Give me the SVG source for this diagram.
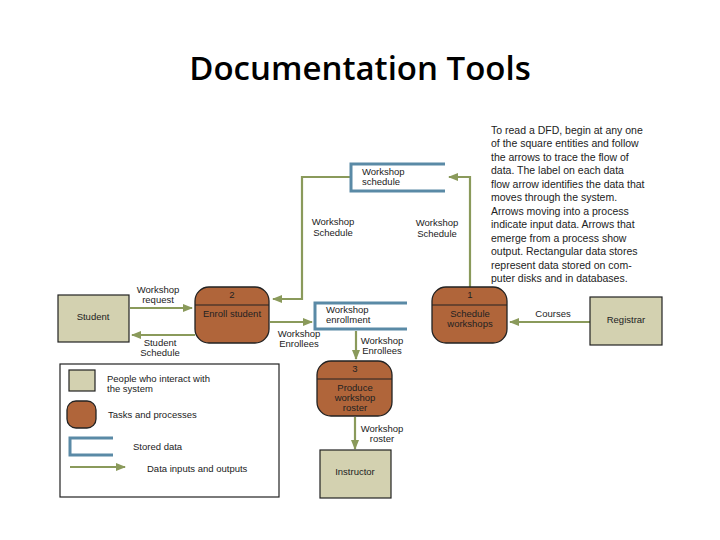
<svg xmlns="http://www.w3.org/2000/svg" width="720" height="540" viewBox="0 0 720 540">
<style>
text{font-family:"Liberation Sans",Arial,sans-serif;font-size:9.5px;fill:#222}
.ent{fill:#d3d1b0;stroke:#222;stroke-width:1.2}
.proc{fill:#b0653a;stroke:#222;stroke-width:1.3}
.store{fill:none;stroke:#5a8aa6;stroke-width:3}
.flow{fill:none;stroke:#8a9a5b;stroke-width:2.2}
.para{font-size:10.5px}
</style>
<defs><marker id="ah" markerWidth="10" markerHeight="8" refX="9" refY="4" orient="auto" markerUnits="userSpaceOnUse"><path d="M0,0 L10,4 L0,8 Z" fill="#8a9a5b"/></marker></defs>
<rect width="720" height="540" fill="#fff"/>
<text x="360" y="80" text-anchor="middle" style="font-family:'Open Sans','Liberation Sans',sans-serif;font-size:33px;font-weight:600;fill:#000">Documentation Tools</text>
<g id="connectors">
<path class="flow" d="M130,308 H192" marker-end="url(#ah)"/>
<path class="flow" d="M195,335 H132" marker-end="url(#ah)"/>
<path class="flow" d="M350,177 H302 V299 H273" marker-end="url(#ah)"/>
<path class="flow" d="M470,288 V177 H449" marker-end="url(#ah)"/>
<path class="flow" d="M270,322 H312" marker-end="url(#ah)"/>
<path class="flow" d="M356,331 V359" marker-end="url(#ah)"/>
<path class="flow" d="M355,417 V449" marker-end="url(#ah)"/>
<path class="flow" d="M590,322 H510" marker-end="url(#ah)"/>
<text x="158" y="293" text-anchor="middle">Workshop</text><text x="158" y="303" text-anchor="middle">request</text>
<text x="160" y="346" text-anchor="middle">Student</text><text x="160" y="356" text-anchor="middle">Schedule</text>
<text x="333" y="225" text-anchor="middle">Workshop</text><text x="333" y="236" text-anchor="middle">Schedule</text>
<text x="437" y="226" text-anchor="middle">Workshop</text><text x="437" y="237" text-anchor="middle">Schedule</text>
<text x="299" y="337" text-anchor="middle">Workshop</text><text x="299" y="347" text-anchor="middle">Enrollees</text>
<text x="382" y="344" text-anchor="middle">Workshop</text><text x="382" y="354" text-anchor="middle">Enrollees</text>
<text x="382" y="432" text-anchor="middle">Workshop</text><text x="382" y="442" text-anchor="middle">roster</text>
<text x="553" y="317" text-anchor="middle">Courses</text>
</g>
<g id="student"><rect class="ent" x="58" y="295" width="71" height="47"/><text x="93" y="320" text-anchor="middle">Student</text></g>
<g id="registrar"><rect class="ent" x="590" y="297" width="72" height="48"/><text x="626" y="323" text-anchor="middle">Registrar</text></g>
<g id="instructor"><rect class="ent" x="320" y="450" width="71" height="48"/><text x="355" y="475" text-anchor="middle">Instructor</text></g>
<g id="p2"><rect class="proc" x="195" y="287" width="74" height="56" rx="14"/><line x1="195" y1="305" x2="269" y2="305" stroke="#222"/><text x="232" y="298" text-anchor="middle">2</text><text x="232" y="317" text-anchor="middle">Enroll student</text></g>
<g id="p1"><rect class="proc" x="432" y="287" width="75" height="56" rx="14"/><line x1="432" y1="305" x2="507" y2="305" stroke="#222"/><text x="470" y="298" text-anchor="middle">1</text><text x="470" y="317" text-anchor="middle">Schedule</text><text x="470" y="327" text-anchor="middle">workshops</text></g>
<g id="p3"><rect class="proc" x="317" y="361" width="75" height="55" rx="14"/><line x1="317" y1="379" x2="392" y2="379" stroke="#222"/><text x="355" y="372" text-anchor="middle">3</text><text x="355" y="391" text-anchor="middle">Produce</text><text x="355" y="401" text-anchor="middle">workshop</text><text x="355" y="411" text-anchor="middle">roster</text></g>
<g id="store-schedule"><path class="store" d="M445,164 H351 V191 H445"/><text x="362" y="175">Workshop</text><text x="362" y="185">schedule</text></g>
<g id="store-enrollment"><path class="store" d="M407,303 H315 V329 H407"/><text x="326" y="313">Workshop</text><text x="326" y="323">enrollment</text></g>
<g id="legend">
<rect x="60" y="364" width="219" height="133" fill="#fff" stroke="#222" stroke-width="1.2"/>
<rect class="ent" x="69" y="370" width="26" height="21"/>
<text x="107" y="382">People who interact with</text><text x="107" y="392">the system</text>
<rect class="proc" x="67" y="401" width="29" height="27" rx="9"/>
<text x="108" y="418">Tasks and processes</text>
<path class="store" d="M113,438 H70 V455 H113"/>
<text x="133" y="450">Stored data</text>
<path class="flow" d="M70,467 H125" marker-end="url(#ah)"/>
<text x="147" y="472">Data inputs and outputs</text>
</g>
<g id="note" class="para">
<text x="491" y="134" class="para">To read a DFD, begin at any one</text>
<text x="491" y="147" class="para">of the square entities and follow</text>
<text x="491" y="161" class="para">the arrows to trace the flow of</text>
<text x="491" y="174" class="para">data. The label on each data</text>
<text x="491" y="188" class="para">flow arrow identifies the data that</text>
<text x="491" y="201" class="para">moves through the system.</text>
<text x="491" y="215" class="para">Arrows moving into a process</text>
<text x="491" y="228" class="para">indicate input data. Arrows that</text>
<text x="491" y="242" class="para">emerge from a process show</text>
<text x="491" y="255" class="para">output. Rectangular data stores</text>
<text x="491" y="269" class="para">represent data stored on com-</text>
<text x="491" y="282" class="para">puter disks and in databases.</text>
</g>
</svg>
